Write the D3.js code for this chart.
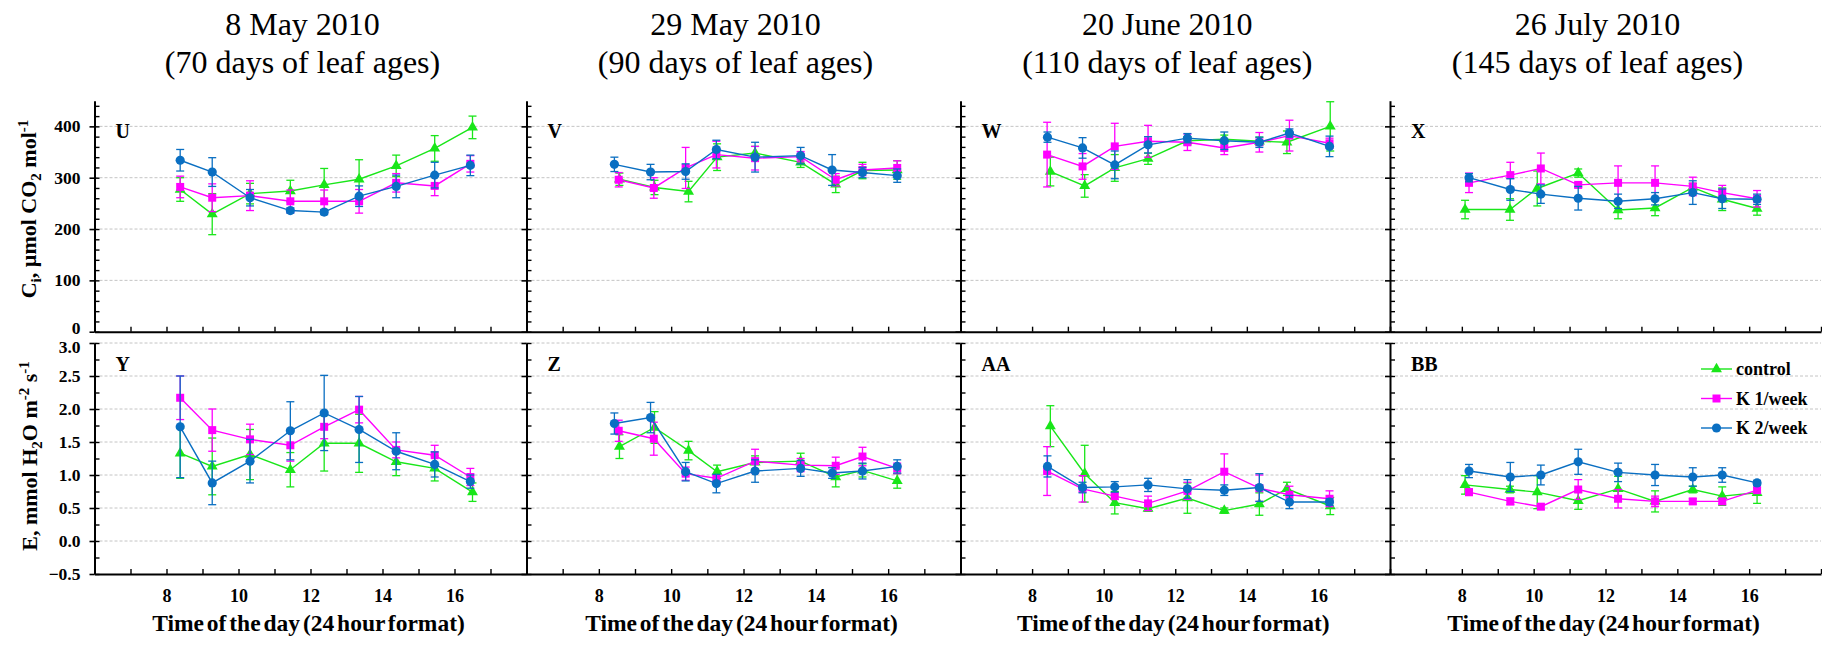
<!DOCTYPE html>
<html>
<head>
<meta charset="utf-8">
<script src="https://cdn.jsdelivr.net/npm/d3@7"></script>
<style>
  body { margin: 0; background: #fff; }
  svg { display: block; }
  text { font-family: "Liberation Serif", "Times New Roman", serif; }
</style>
</head>
<body>
<svg id="chart" width="1822" height="646"></svg>
<script>
// ---- Sampling dates and panel labels ----
const dateTitles = ["8 May 2010", "29 May 2010", "20 June 2010", "26 July 2010"];
const ageTitles = ["(70 days of leaf ages)", "(90 days of leaf ages)", "(110 days of leaf ages)", "(145 days of leaf ages)"];
const ciLetters = ["U", "V", "W", "X"];
const eLetters = ["Y", "Z", "AA", "BB"];
const seriesNames = ["control", "K 1/week", "K 2/week"];

// ---- Axis ticks ----
const xTicks = [6, 7, 8, 9, 10, 11, 12, 13, 14, 15, 16, 17, 18];
const xLabels = [8, 10, 12, 14, 16];
const ciMajor = [0, 100, 200, 300, 400];
const ciMinor = [20, 40, 60, 80, 120, 140, 160, 180, 220, 240, 260, 280, 320, 340, 360, 380, 420, 440];
const eMajor = [-0.5, 0.0, 0.5, 1.0, 1.5, 2.0, 2.5, 3.0];
const eMinor = [-0.25, 0.25, 0.75, 1.25, 1.75, 2.25, 2.75];

// ---- 8 May 2010 ----
const t1Control = [8.38, 9.27, 10.32, 11.44, 12.38, 13.35, 14.38, 15.45, 16.50];
const t1K1 = [8.38, 9.27, 10.32, 11.44, 12.38, 13.35, 14.38, 15.45, 16.44];
const t1K2 = [8.38, 9.27, 10.32, 11.44, 12.38, 13.35, 14.38, 15.45, 16.44];
const ci1Control = [277, 229, 269, 274, 286, 297, 323, 357, 398];
const ci1ControlErr = [23, 40, 20, 21, 32, 38, 21, 25, 22];
const ci1K1 = [282, 261, 265, 254, 254, 254, 290, 284, 327];
const ci1K1Err = [21, 27, 29, 22, 22, 23, 18, 19, 16];
const ci1K2 = [334, 311, 261, 236, 233, 264, 283, 305, 324];
const ci1K2Err = [21, 28, 16, 5, 5, 20, 22, 25, 20];
const e1Control = [1.33, 1.13, 1.31, 1.08, 1.48, 1.48, 1.20, 1.10, 0.74];
const e1ControlErr = [0.38, 0.43, 0.38, 0.26, 0.42, 0.44, 0.21, 0.19, 0.14];
const e1K1 = [2.17, 1.68, 1.54, 1.45, 1.73, 1.99, 1.38, 1.30, 0.97];
const e1K1Err = [0.33, 0.32, 0.23, 0.24, 0.18, 0.20, 0.12, 0.15, 0.13];
const e1K2 = [1.73, 0.88, 1.21, 1.67, 1.94, 1.69, 1.36, 1.16, 0.90];
const e1K2Err = [0.77, 0.33, 0.33, 0.44, 0.57, 0.50, 0.28, 0.19, 0.10];

// ---- 29 May 2010 ----
const t2Control = [8.57, 9.54, 10.48, 11.27, 12.32, 13.58, 14.55, 15.29, 16.25];
const t2K1 = [8.55, 9.52, 10.40, 11.25, 12.32, 13.58, 14.55, 15.29, 16.25];
const t2K2 = [8.43, 9.43, 10.40, 11.25, 12.32, 13.58, 14.45, 15.29, 16.25];
const ci2Control = [297, 281, 273, 340, 348, 330, 287, 314, 315];
const ci2ControlErr = [12, 14, 20, 26, 13, 10, 16, 16, 18];
const ci2K1 = [296, 280, 319, 345, 338, 341, 296, 315, 319];
const ci2K1Err = [14, 20, 40, 26, 23, 10, 12, 11, 14];
const ci2K2 = [326, 311, 312, 355, 340, 343, 315, 310, 304];
const ci2K2Err = [14, 15, 15, 18, 29, 16, 30, 10, 13];
const e2Control = [1.43, 1.72, 1.37, 1.05, 1.19, 1.21, 0.97, 1.07, 0.91];
const e2ControlErr = [0.18, 0.24, 0.14, 0.10, 0.10, 0.12, 0.15, 0.10, 0.11];
const e2K1 = [1.67, 1.55, 1.02, 0.95, 1.21, 1.15, 1.14, 1.28, 1.10];
const e2K1Err = [0.16, 0.25, 0.10, 0.05, 0.18, 0.10, 0.13, 0.14, 0.08];
const e2K2 = [1.78, 1.87, 1.05, 0.87, 1.06, 1.10, 1.03, 1.06, 1.13];
const e2K2Err = [0.16, 0.23, 0.14, 0.14, 0.17, 0.12, 0.08, 0.12, 0.10];

// ---- 20 June 2010 ----
const t3Control = [8.51, 9.47, 10.31, 11.24, 12.34, 13.37, 14.35, 15.12, 16.33];
const t3K1 = [8.42, 9.41, 10.31, 11.24, 12.34, 13.37, 14.35, 15.19, 16.31];
const t3K2 = [8.43, 9.41, 10.31, 11.24, 12.34, 13.37, 14.35, 15.19, 16.31];
const ci3Control = [312, 284, 319, 337, 372, 375, 371, 369, 400];
const ci3ControlErr = [28, 22, 26, 11, 8, 8, 8, 22, 48];
const ci3K1 = [345, 322, 361, 371, 369, 358, 369, 382, 367];
const ci3K1Err = [63, 25, 45, 31, 16, 13, 19, 30, 10];
const ci3K2 = [379, 358, 325, 364, 377, 372, 369, 387, 361];
const ci3K2Err = [10, 20, 27, 16, 9, 17, 10, 8, 20];
const e3Control = [1.74, 1.02, 0.58, 0.49, 0.65, 0.46, 0.56, 0.79, 0.53];
const e3ControlErr = [0.31, 0.43, 0.17, 0.04, 0.23, 0.04, 0.17, 0.10, 0.13];
const e3K1 = [1.06, 0.79, 0.68, 0.57, 0.76, 1.05, 0.80, 0.70, 0.64];
const e3K1Err = [0.37, 0.20, 0.05, 0.11, 0.13, 0.27, 0.20, 0.13, 0.12];
const e3K2 = [1.13, 0.81, 0.82, 0.85, 0.79, 0.77, 0.81, 0.59, 0.59];
const e3K2Err = [0.16, 0.08, 0.08, 0.10, 0.14, 0.08, 0.21, 0.10, 0.05];

// ---- 26 July 2010 ----
const t4Control = [8.09, 9.34, 10.10, 11.24, 12.35, 13.38, 14.43, 15.25, 16.22];
const t4K1 = [8.20, 9.35, 10.20, 11.24, 12.35, 13.38, 14.43, 15.25, 16.22];
const t4K2 = [8.20, 9.35, 10.20, 11.24, 12.35, 13.38, 14.43, 15.25, 16.22];
const ci4Control = [238, 238, 279, 309, 237, 241, 281, 258, 240];
const ci4ControlErr = [18, 21, 34, 8, 17, 15, 8, 22, 13];
const ci4K1 = [290, 305, 318, 286, 290, 290, 283, 271, 259];
const ci4K1Err = [19, 25, 30, 5, 33, 33, 18, 14, 16];
const ci4K2 = [300, 277, 268, 260, 254, 259, 271, 259, 258];
const ci4K2Err = [8, 21, 18, 23, 14, 12, 23, 19, 10];
const e4Control = [0.85, 0.78, 0.74, 0.61, 0.79, 0.60, 0.78, 0.68, 0.73];
const e4ControlErr = [0.14, 0.05, 0.25, 0.13, 0.19, 0.16, 0.05, 0.14, 0.16];
const e4K1 = [0.74, 0.60, 0.52, 0.78, 0.64, 0.60, 0.60, 0.60, 0.77];
const e4K1Err = [0.05, 0.05, 0.04, 0.15, 0.14, 0.08, 0.04, 0.04, 0.04];
const e4K2 = [1.06, 0.97, 1.00, 1.20, 1.04, 1.00, 0.97, 1.00, 0.88];
const e4K2Err = [0.10, 0.22, 0.15, 0.19, 0.14, 0.16, 0.14, 0.11, 0.04];

// ---- Build per-panel series tables from the arrays above ----
const times = [[t1Control, t1K1, t1K2], [t2Control, t2K1, t2K2], [t3Control, t3K1, t3K2], [t4Control, t4K1, t4K2]];
const ciVals = [[ci1Control, ci1K1, ci1K2], [ci2Control, ci2K1, ci2K2], [ci3Control, ci3K1, ci3K2], [ci4Control, ci4K1, ci4K2]];
const ciErrs = [[ci1ControlErr, ci1K1Err, ci1K2Err], [ci2ControlErr, ci2K1Err, ci2K2Err], [ci3ControlErr, ci3K1Err, ci3K2Err], [ci4ControlErr, ci4K1Err, ci4K2Err]];
const eVals = [[e1Control, e1K1, e1K2], [e2Control, e2K1, e2K2], [e3Control, e3K1, e3K2], [e4Control, e4K1, e4K2]];
const eErrs = [[e1ControlErr, e1K1Err, e1K2Err], [e2ControlErr, e2K1Err, e2K2Err], [e3ControlErr, e3K1Err, e3K2Err], [e4ControlErr, e4K1Err, e4K2Err]];

const colors = ["#19e619", "#ff00ff", "#0a6fc2"];
const symbols = [d3.symbolTriangle, d3.symbolSquare, d3.symbolCircle];
const symbolSizes = [52, 64, 66];

// ---- Layout ----
const svg = d3.select("#chart");
const edges = [94.5, 526.5, 960.5, 1390, 1821];
const yCi = d3.scaleLinear().domain([0, 450]).range([331.7, 100.7]);
const yE = d3.scaleLinear().domain([-0.5, 3.0]).range([574, 343]);

function drawPanel(i, yScale, majors, minors, vals, errs, letter, letterY, isBottom) {
  const x = d3.scaleLinear().domain([6, 18]).range([edges[i], edges[i + 1]]);
  const g = svg.append("g");

  // dashed horizontal grid
  const gridVals = majors.filter(v => v > yScale.domain()[0]);
  g.append("g").selectAll("line").data(gridVals).join("line")
    .attr("x1", x(6)).attr("x2", x(18))
    .attr("y1", d => yScale(d)).attr("y2", d => yScale(d))
    .attr("stroke", "#c4c4c4").attr("stroke-width", 1)
    .attr("stroke-dasharray", "3,2");

  // left axis: outward half of the major ticks (labels on first column only)
  const fmt = isBottom ? d3.format(".1f") : d3.format("d");
  const left = g.append("g").attr("transform", `translate(${x(6)},0)`)
    .call(d3.axisLeft(yScale).tickValues(majors).tickSizeInner(5).tickSizeOuter(0).tickPadding(9)
      .tickFormat(i === 0 ? fmt : () => ""));
  left.select(".domain").attr("stroke", "#000").attr("stroke-width", 2);
  left.selectAll(".tick line").attr("stroke", "#000").attr("stroke-width", 1.6);
  left.selectAll(".tick text").attr("font-size", 17.5).attr("font-weight", "bold")
    .attr("font-family", "Liberation Serif, Times New Roman, serif").attr("fill", "#000");
  // keep the labels where the two panels meet (0 and 3.0) clear of each other
  left.selectAll(".tick text").filter(d => (!isBottom && d === 0))
    .attr("transform", "translate(0,-4)");
  left.selectAll(".tick text").filter(d => (isBottom && d === 3.0))
    .attr("transform", "translate(0,4)");

  // inward ticks
  const inner = g.append("g").attr("transform", `translate(${x(6)},0)`)
    .call(d3.axisRight(yScale).tickValues(majors.concat(minors)).tickSize(5).tickFormat(() => ""));
  inner.select(".domain").remove();
  inner.selectAll(".tick line").attr("stroke", "#000").attr("stroke-width", 1.4);

  // bottom axis with inward ticks
  const base = yScale.range()[0];
  const bottom = g.append("g").attr("transform", `translate(0,${base})`)
    .call(d3.axisBottom(x).tickValues(xTicks).tickSizeInner(-5).tickSizeOuter(0).tickPadding(15)
      .tickFormat(d => (isBottom && xLabels.includes(d)) ? d : ""));
  bottom.select(".domain").attr("stroke", "#000").attr("stroke-width", 2);
  bottom.selectAll(".tick line").attr("stroke", "#000").attr("stroke-width", 1.4);
  bottom.selectAll(".tick text").attr("font-size", 18).attr("font-weight", "bold")
    .attr("font-family", "Liberation Serif, Times New Roman, serif").attr("fill", "#000");

  // panel letter
  g.append("text").attr("x", x(6) + 21).attr("y", letterY)
    .attr("font-size", 20).attr("font-weight", "bold").text(letter);

  // series: control, K 1/week, K 2/week
  for (let s = 0; s < 3; s++) {
    const pts = times[i][s].map((t, k) => ({ t, v: vals[s][k], e: errs[s][k] }));
    const sg = g.append("g");
    const line = d3.line().x(d => x(d.t)).y(d => yScale(d.v));
    sg.append("path").datum(pts).attr("d", line)
      .attr("fill", "none").attr("stroke", colors[s]).attr("stroke-width", 1.4);
    const eb = sg.append("g").attr("stroke", colors[s]).attr("stroke-width", 1.3);
    eb.selectAll(".v").data(pts).join("line")
      .attr("x1", d => x(d.t)).attr("x2", d => x(d.t))
      .attr("y1", d => yScale(d.v - d.e)).attr("y2", d => yScale(d.v + d.e));
    eb.selectAll(".c1").data(pts).join("line")
      .attr("x1", d => x(d.t) - 4).attr("x2", d => x(d.t) + 4)
      .attr("y1", d => yScale(d.v + d.e)).attr("y2", d => yScale(d.v + d.e));
    eb.selectAll(".c2").data(pts).join("line")
      .attr("x1", d => x(d.t) - 4).attr("x2", d => x(d.t) + 4)
      .attr("y1", d => yScale(d.v - d.e)).attr("y2", d => yScale(d.v - d.e));
    sg.selectAll(".m").data(pts).join("path")
      .attr("transform", d => `translate(${x(d.t)},${yScale(d.v)})`)
      .attr("d", d3.symbol().type(symbols[s]).size(symbolSizes[s])())
      .attr("fill", colors[s]);
  }
  return x;
}

for (let i = 0; i < 4; i++) {
  drawPanel(i, yCi, ciMajor, ciMinor, ciVals[i], ciErrs[i], ciLetters[i], 138, false);
  drawPanel(i, yE, eMajor, eMinor, eVals[i], eErrs[i], eLetters[i], 371, true);

  // column titles
  const cx = (edges[i] + edges[i + 1]) / 2 - 8;
  svg.append("text").attr("x", cx).attr("y", 35).attr("text-anchor", "middle")
    .attr("font-size", 32).text(dateTitles[i]);
  svg.append("text").attr("x", cx).attr("y", 73).attr("text-anchor", "middle")
    .attr("font-size", 32).text(ageTitles[i]);

  // x-axis title
  svg.append("text").attr("x", cx + 6).attr("y", 631).attr("text-anchor", "middle")
    .attr("font-size", 23.5).attr("font-weight", "bold").attr("word-spacing", -3)
    .text("Time of the day (24 hour format)");
}

// y-axis titles with sub/superscripts
const ciTitle = svg.append("text").attr("transform", "translate(36,209) rotate(-90)")
  .attr("text-anchor", "middle").attr("font-size", 22).attr("font-weight", "bold");
ciTitle.append("tspan").text("C");
ciTitle.append("tspan").attr("font-size", 15).attr("dy", 5).text("i");
ciTitle.append("tspan").attr("dy", -5).text(", µmol CO");
ciTitle.append("tspan").attr("font-size", 15).attr("dy", 5).text("2");
ciTitle.append("tspan").attr("dy", -5).text(" mol");
ciTitle.append("tspan").attr("font-size", 15).attr("dy", -8).text("-1");

const eTitle = svg.append("text").attr("transform", "translate(37,456) rotate(-90)")
  .attr("text-anchor", "middle").attr("font-size", 22).attr("font-weight", "bold");
eTitle.append("tspan").text("E, mmol H");
eTitle.append("tspan").attr("font-size", 15).attr("dy", 5).text("2");
eTitle.append("tspan").attr("dy", -5).text("O m");
eTitle.append("tspan").attr("font-size", 15).attr("dy", -8).text("-2");
eTitle.append("tspan").attr("dy", 8).text(" s");
eTitle.append("tspan").attr("font-size", 15).attr("dy", -8).text("-1");

// legend inside the last E panel
const legend = svg.append("g").attr("transform", "translate(1701,369)");
seriesNames.forEach((name, s) => {
  const row = legend.append("g").attr("transform", `translate(0,${s * 29.5})`);
  row.append("line").attr("x1", 0).attr("x2", 31).attr("stroke", colors[s]).attr("stroke-width", 1.4);
  row.append("path").attr("transform", "translate(15.5,0)")
    .attr("d", d3.symbol().type(symbols[s]).size(symbolSizes[s])()).attr("fill", colors[s]);
  row.append("text").attr("x", 35).attr("y", 6).attr("font-size", 18).attr("font-weight", "bold").text(name);
});
</script>
</body>
</html>
